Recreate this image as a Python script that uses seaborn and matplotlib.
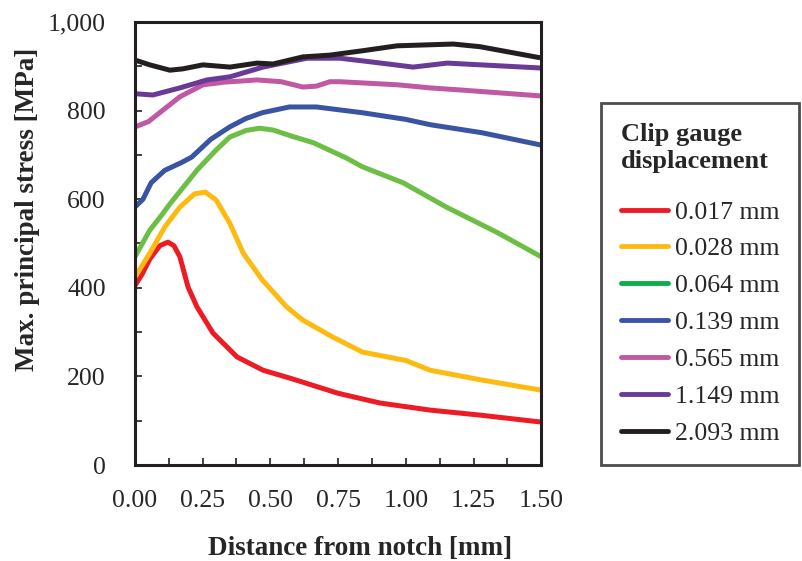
import numpy as np
import pandas as pd
import matplotlib
matplotlib.use("Agg")
import matplotlib.pyplot as plt
from matplotlib.lines import Line2D
from matplotlib.ticker import MultipleLocator, StrMethodFormatter
import seaborn as sns

# values (distance [mm], stress [MPa])
x_017 = [0.00, 0.026, 0.055, 0.092, 0.122, 0.144, 0.166, 0.196, 0.229, 0.288, 0.377, 0.473, 0.573, 0.75, 0.905, 1.09, 1.27, 1.50]
y_017 = [405, 430, 465, 495, 503, 495, 470, 402, 357, 298, 244, 214, 196, 162, 140, 124, 113, 97]

x_028 = [0.00, 0.055, 0.11, 0.166, 0.22, 0.26, 0.30, 0.35, 0.40, 0.47, 0.56, 0.62, 0.73, 0.84, 1.00, 1.09, 1.28, 1.50]
y_028 = [424, 478, 537, 582, 612, 616, 598, 546, 478, 418, 357, 327, 289, 255, 236, 214, 192, 169]

x_064 = [0.00, 0.055, 0.10, 0.13, 0.20, 0.23, 0.30, 0.35, 0.41, 0.46, 0.51, 0.58, 0.66, 0.72, 0.78, 0.84, 0.99, 1.15, 1.34, 1.50]
y_064 = [470, 530, 565, 590, 643, 666, 711, 740, 755, 760, 756, 742, 727, 710, 693, 673, 637, 582, 524, 470]

x_139 = [0.00, 0.03, 0.06, 0.11, 0.17, 0.21, 0.28, 0.35, 0.41, 0.47, 0.57, 0.67, 0.84, 1.00, 1.09, 1.28, 1.50]
y_139 = [582, 600, 637, 665, 682, 695, 735, 763, 782, 795, 808, 808, 795, 780, 768, 750, 722]

x_565 = [0.00, 0.05, 0.166, 0.251, 0.33, 0.451, 0.54, 0.62, 0.67, 0.72, 0.757, 0.97, 1.09, 1.21, 1.496]
y_565 = [763, 775, 831, 858, 864, 869, 865, 853, 855, 865, 865, 858, 851, 846, 833]

x_1149 = [0.00, 0.066, 0.166, 0.266, 0.351, 0.473, 0.635, 0.757, 0.868, 1.027, 1.153, 1.496]
y_1149 = [838, 835, 851, 869, 876, 898, 918, 918, 910, 898, 907, 896]

x_2093 = [0.00, 0.055, 0.129, 0.177, 0.251, 0.351, 0.451, 0.51, 0.62, 0.72, 0.842, 0.968, 1.175, 1.274, 1.496]
y_2093 = [914, 903, 891, 894, 903, 898, 907, 905, 921, 925, 935, 946, 950, 944, 919]

labels = ["0.017 mm", "0.028 mm", "0.064 mm", "0.139 mm", "0.565 mm", "1.149 mm", "2.093 mm"]
line_colors = ["#ED1C24", "#FDBB12", "#6CBE45", "#3A54A4", "#C158A2", "#6A3A97", "#231F20"]
legend_colors = ["#ED1C24", "#FDBB12", "#0BAE4B", "#3A54A4", "#C158A2", "#6A3A97", "#231F20"]

xs = [x_017, x_028, x_064, x_139, x_565, x_1149, x_2093]
ys = [y_017, y_028, y_064, y_139, y_565, y_1149, y_2093]

frames = []
for lab, x, y in zip(labels, xs, ys):
    frames.append(pd.DataFrame({"dist": x, "stress": y, "disp": lab}))
df = pd.concat(frames, ignore_index=True)

sns.set_style("ticks")
plt.rcParams["font.family"] = ["Liberation Serif", "DejaVu Serif"]

fig = plt.figure(figsize=(8.03, 5.61), dpi=100)
ax = fig.add_axes([0.168, 0.171, 0.506, 0.790])

sns.lineplot(data=df, x="dist", y="stress", hue="disp", hue_order=labels,
             palette=dict(zip(labels, line_colors)), estimator=None, sort=True,
             linewidth=3.6, legend=False, ax=ax)
for ln in ax.lines:
    ln.set_solid_joinstyle("round")
    ln.set_solid_capstyle("butt")

ax.set_xlim(0, 1.5)
ax.set_ylim(0, 1000)
ax.xaxis.set_major_locator(MultipleLocator(0.25))
ax.xaxis.set_minor_locator(MultipleLocator(0.125))
ax.yaxis.set_major_locator(MultipleLocator(200))
ax.yaxis.set_minor_locator(MultipleLocator(100))
ax.xaxis.set_major_formatter(StrMethodFormatter("{x:.2f}"))
ax.yaxis.set_major_formatter(StrMethodFormatter("{x:,.0f}"))
ax.tick_params(which="both", direction="in", length=5, width=1.2, labelsize=18.5,
               top=False, right=False, color="#231F20")
ax.tick_params(axis="x", which="major", pad=18)
ax.tick_params(axis="y", which="major", pad=21)
for sp in ax.spines.values():
    sp.set_visible(True)
    sp.set_linewidth(2.2)
    sp.set_color("#231F20")

ax.set_xlabel("Distance from notch [mm]", fontsize=19.5, fontweight="bold")
ax.set_ylabel("Max. principal stress [MPa]", fontsize=19.5, fontweight="bold")
ax.xaxis.set_label_coords(0.554, -0.16)
ax.yaxis.set_label_coords(-0.234, 0.576)

handles = [Line2D([0], [0], color=c, lw=3.5) for c in legend_colors]
leg = fig.legend(handles, labels, title="Clip gauge\ndisplacement",
                 loc="upper left", bbox_to_anchor=(0.748, 0.816), borderaxespad=0,
                 fontsize=18.5, title_fontproperties={"weight": "bold", "size": 19},
                 alignment="left", frameon=True, fancybox=False,
                 edgecolor="#231F20", handlelength=1.85, handletextpad=0.25,
                 labelspacing=0.54, borderpad=0.78)
leg.get_frame().set_linewidth(2)
leg._legend_box.sep = 20

fig.savefig("out.png", dpi=100)
